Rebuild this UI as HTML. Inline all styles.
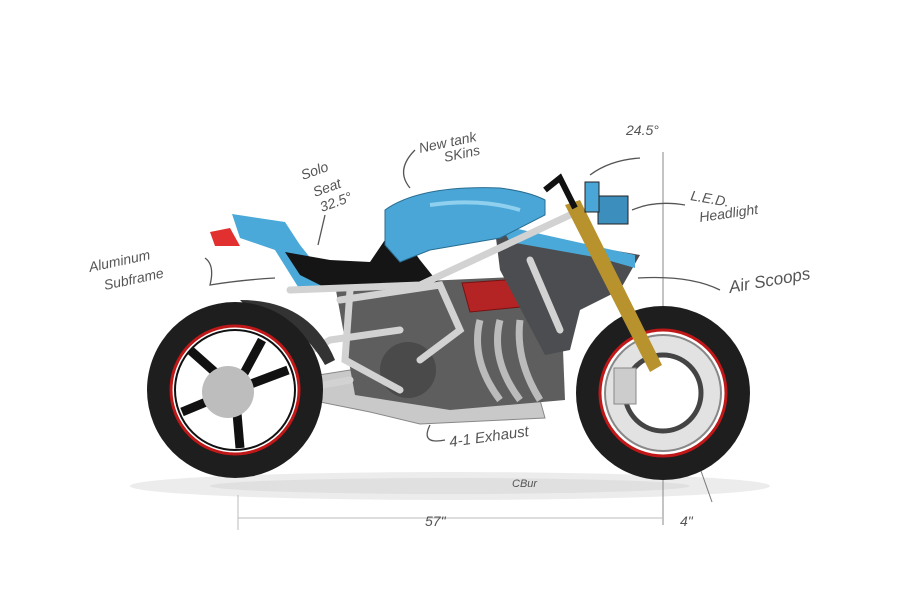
<!DOCTYPE html>
<html><head><meta charset="utf-8"><style>
html,body{margin:0;padding:0;background:#fff;width:900px;height:602px;overflow:hidden}
text{font-family:"Liberation Sans",sans-serif;font-style:italic;fill:#555}
</style></head><body>
<svg width="900" height="602" viewBox="0 0 900 602" xmlns="http://www.w3.org/2000/svg">
<ellipse cx="450" cy="486" rx="320" ry="14" fill="#ececec"/>
<ellipse cx="450" cy="486" rx="240" ry="8" fill="#e0e0e0"/>
<line x1="663" y1="152" x2="663" y2="525" stroke="#888" stroke-width="1"/>
<line x1="238" y1="518" x2="662" y2="518" stroke="#bbb" stroke-width="1"/>
<line x1="238" y1="495" x2="238" y2="530" stroke="#bbb"/>
<line x1="690" y1="440" x2="712" y2="502" stroke="#777"/>
<path d="M300 378 L350 370 L390 385 L430 398 L540 400 L545 418 L420 424 L370 412 L300 398 Z" fill="#c9c9c9" stroke="#888"/>
<path d="M335 285 L560 275 L565 400 L450 410 L355 395 Z" fill="#5e5e5e"/>
<circle cx="408" cy="370" r="28" fill="#4a4a4a"/>
<path d="M480 320 Q470 360 500 400 M500 320 Q490 360 520 400 M520 320 Q515 360 540 400" stroke="#bbb" stroke-width="7" fill="none"/>
<path d="M462 283 L535 278 L540 305 L470 312 Z" fill="#b52424" stroke="#7a1010"/>
<path d="M495 230 L640 255 L620 290 L580 310 L570 350 L545 355 L500 270 Z" fill="#4b4d50"/>
<path d="M500 225 L635 255 L635 268 L600 258 L510 242 Z" fill="#4aa9d8"/>
<path d="M232 214 L285 222 L300 245 L320 270 L330 290 L300 290 L275 250 L240 238 Z" fill="#4aa9d8"/>
<path d="M210 232 L230 228 L240 246 L215 246 Z" fill="#e23030"/>
<path d="M285 252 L330 260 L370 262 L395 225 L420 260 L440 285 L330 290 L300 275 Z" fill="#151515"/>
<path d="M385 210 Q420 185 500 188 Q530 192 545 200 L545 215 L500 238 L430 250 L400 262 L385 245 Z" fill="#49a6d6" stroke="#2a6d92"/>
<path d="M430 205 Q480 198 520 210" stroke="#8fd0ee" stroke-width="4" fill="none"/>
<g stroke="#d2d2d2" stroke-width="7" fill="none" stroke-linecap="round">
<path d="M290 290 L420 285 L570 215"/>
<path d="M340 300 L440 285 L460 330 L420 360"/>
<path d="M350 290 L345 360 L400 390"/>
<path d="M240 390 L330 340 L400 330"/>
<path d="M240 400 L350 380"/>
<path d="M530 260 L560 330"/>
</g>
<path d="M240 300 Q310 300 335 360 L325 365 Q300 320 250 310 Z" fill="#333"/>
<circle cx="235" cy="390" r="88" fill="#1e1e1e"/>
<circle cx="235" cy="390" r="64" fill="#fff" stroke="#c01818" stroke-width="3"/>
<circle cx="235" cy="390" r="60" fill="#fff" stroke="#111" stroke-width="2"/>
<g stroke="#111" stroke-width="9">
<line x1="235" y1="390" x2="190" y2="350"/><line x1="235" y1="390" x2="288" y2="370"/>
<line x1="235" y1="390" x2="240" y2="448"/><line x1="235" y1="390" x2="182" y2="412"/><line x1="235" y1="390" x2="262" y2="340"/></g>
<circle cx="228" cy="392" r="26" fill="#bdbdbd"/>
<circle cx="663" cy="393" r="87" fill="#1e1e1e"/>
<circle cx="663" cy="393" r="63" fill="#fff" stroke="#c01818" stroke-width="3"/>
<circle cx="663" cy="393" r="58" fill="#e2e2e2" stroke="#888" stroke-width="2"/>
<circle cx="663" cy="393" r="38" fill="#fff" stroke="#444" stroke-width="5"/>
<rect x="614" y="368" width="22" height="36" fill="#ccc" stroke="#888"/>
<path d="M565 205 L580 200 L662 365 L650 372 Z" fill="#b8922c"/>
<rect x="598" y="196" width="30" height="28" fill="#3c8fbd" stroke="#222"/>
<rect x="585" y="182" width="14" height="30" fill="#49a6d6" stroke="#222"/>
<path d="M545 190 L560 178 L575 208" stroke="#111" stroke-width="6" fill="none"/>
<g font-size="14">
<text x="90" y="272" transform="rotate(-12 90 272)">Aluminum</text>
<text x="105" y="290" transform="rotate(-12 105 290)">Subframe</text>
<text x="303" y="180" transform="rotate(-20 303 180)">Solo</text>
<text x="315" y="197" transform="rotate(-20 315 197)">Seat</text>
<text x="322" y="212" transform="rotate(-20 322 212)">32.5°</text>
<text x="420" y="153" transform="rotate(-12 420 153)">New tank</text>
<text x="445" y="162" transform="rotate(-12 445 162)">SKins</text>
<text x="626" y="135">24.5°</text>
<text x="690" y="200" transform="rotate(10 690 200)">L.E.D.</text>
<text x="700" y="222" transform="rotate(-8 700 222)">Headlight</text>
<text x="730" y="293" font-size="17" transform="rotate(-10 730 293)">Air Scoops</text>
<text x="450" y="447" font-size="15" transform="rotate(-8 450 447)">4-1 Exhaust</text>
<text x="425" y="526">57"</text>
<text x="680" y="526">4"</text>
<text x="512" y="487" font-size="11">CBur</text>
</g>
<g stroke="#555" stroke-width="1.3" fill="none">
<path d="M275 278 Q240 280 210 285 Q215 265 205 258"/>
<path d="M325 215 L318 245"/>
<path d="M415 150 Q395 170 410 188"/>
<path d="M640 158 Q610 160 590 175"/>
<path d="M685 205 Q655 200 632 210"/>
<path d="M720 290 Q690 275 638 278"/>
<path d="M445 440 Q420 445 430 425"/>
</g>
</svg>
</body></html>
